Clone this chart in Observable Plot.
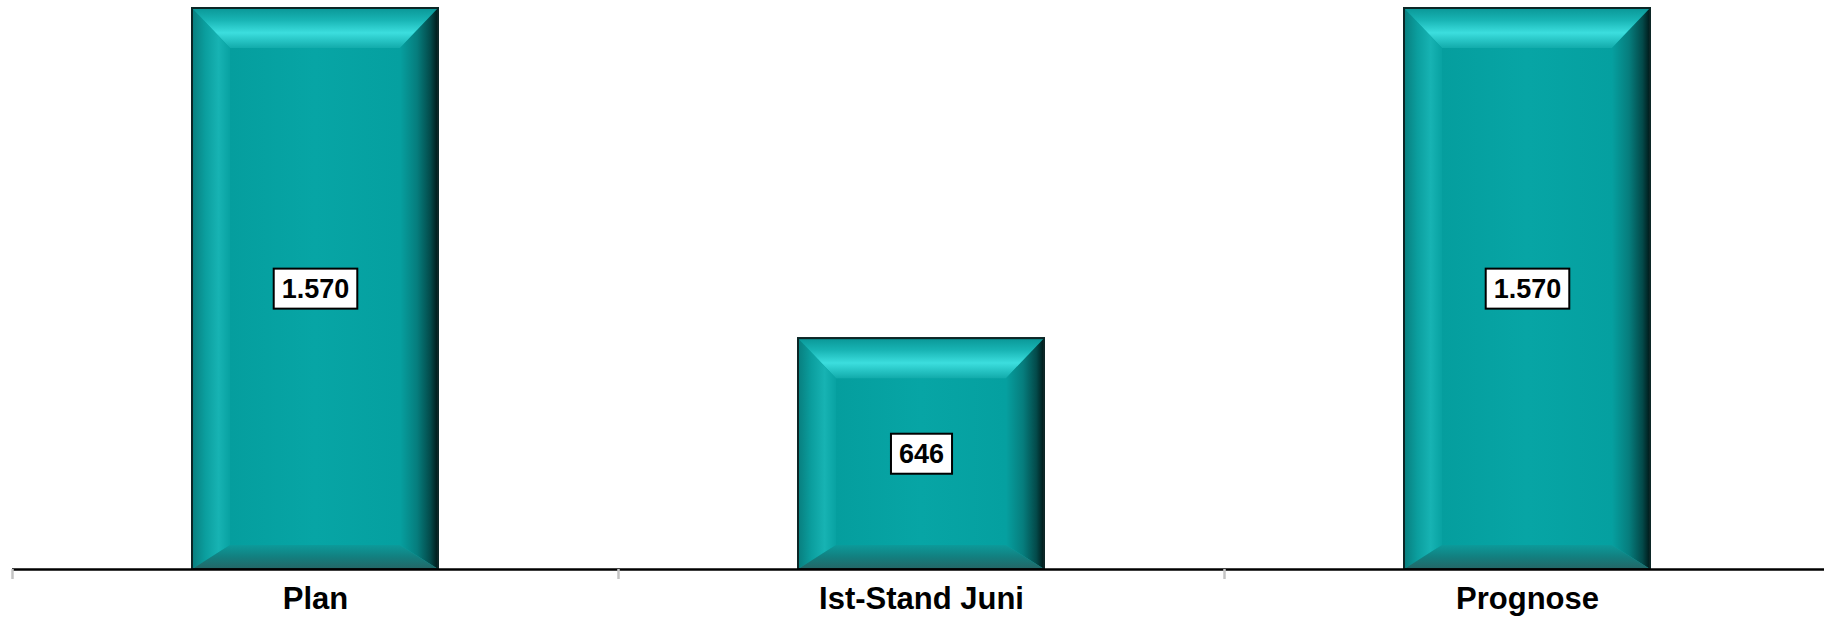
<!DOCTYPE html>
<html>
<head>
<meta charset="utf-8">
<script src="https://cdn.jsdelivr.net/npm/d3@7"></script>
<script src="https://cdn.jsdelivr.net/npm/@observablehq/plot@0.6"></script>
<style>
  html, body { margin: 0; padding: 0; background: #fff; }
  svg { display: block; }
</style>
</head>
<body>
<script>
const categories = ["Plan", "Ist-Stand Juni", "Prognose"];
const values = [1570, 646, 1570];

const data = categories.map((c, i) => ({cat: c, value: values[i]}));
const de = d3.formatLocale({decimal: ",", thousands: ".", grouping: [3], currency: ["", " €"]});
const fmt = de.format(",d");

const W = 1824, H = 617;
const xRange = [12, 1830];
const step = (xRange[1] - xRange[0]) / categories.length;
const FONT = "'Liberation Sans', Arial, Helvetica, sans-serif";

const chart = Plot.plot({
  width: W, height: H,
  marginTop: 8, marginBottom: 48, marginLeft: 12, marginRight: 0,
  style: {fontFamily: FONT, color: "#000", background: "#fff"},
  x: {domain: categories, range: xRange, paddingInner: 0.594, paddingOuter: 0.297, axis: null},
  y: {domain: [0, 1570], axis: null},
  marks: [
    Plot.barY(data, {x: "cat", y: "value", fill: "#06a3a3", stroke: "#0c2626", strokeWidth: 2, className: "bars"}),
    Plot.ruleY([0], {stroke: "#000", strokeWidth: 2.5}),
    Plot.axisX({tickSize: 10, dx: -step / 2, tickFormat: () => "", label: null, stroke: "#c4c4c4", strokeWidth: 2.5}),
    Plot.axisX({tickSize: 0, tickPadding: 17, label: null, fontSize: 31, fontWeight: "bold", fill: "#000"}),
    Plot.text(data, {x: "cat", y: d => d.value / 2, text: d => fmt(d.value), fontSize: 27, fontWeight: "bold", fill: "#000", className: "vlabel"})
  ]
});
document.body.append(chart);

// bevel decoration derived from the rendered bars
const NS = "http://www.w3.org/2000/svg";
const defs = document.createElementNS(NS, "defs");
chart.insertBefore(defs, chart.firstChild);
function grad(id, x2, y2, stops) {
  const g = document.createElementNS(NS, "linearGradient");
  g.setAttribute("id", id);
  g.setAttribute("x1", 0); g.setAttribute("y1", 0);
  g.setAttribute("x2", x2); g.setAttribute("y2", y2);
  stops.forEach(([o, c]) => {
    const s = document.createElementNS(NS, "stop");
    s.setAttribute("offset", o); s.setAttribute("stop-color", c);
    g.appendChild(s);
  });
  defs.appendChild(g);
}
grad("bvTop", 0, 1, [[0, "#0a9797"], [0.3, "#18b4b4"], [0.62, "#3cdede"], [1, "#12abab"]]);
grad("bvLeft", 1, 0, [[0, "#087e7e"], [0.35, "#0b9e9e"], [0.7, "#17b3b3"], [1, "#08a2a2"]]);
grad("bvRight", 1, 0, [[0, "#06a0a0"], [0.45, "#067d7d"], [0.8, "#034a4a"], [1, "#001818"]]);
grad("bvBottom", 0, 1, [[0, "#0c9a9a"], [0.5, "#137f7f"], [1, "#246666"]]);
grad("bvFace", 1, 0, [[0, "#059e9e"], [0.5, "#07a5a5"], [1, "#05a0a0"]]);

const BT = 40, BS = 38, BB = 24;
chart.querySelectorAll("g.bars rect").forEach(r => {
  const x = +r.getAttribute("x"), y = +r.getAttribute("y");
  const w = +r.getAttribute("width"), h = +r.getAttribute("height");
  const parent = r.parentNode;
  const tr = r.getAttribute("transform");
  const g = document.createElementNS(NS, "g");
  g.setAttribute("stroke", "none");
  if (tr) g.setAttribute("transform", tr);
  const x0 = x, x1 = x + w, y0 = y, y1 = y + h;
  const polys = [
    ["url(#bvFace)", [[x0 + BS, y0 + BT], [x1 - BS, y0 + BT], [x1 - BS, y1 - BB], [x0 + BS, y1 - BB]]],
    ["url(#bvTop)", [[x0, y0], [x1, y0], [x1 - BS, y0 + BT], [x0 + BS, y0 + BT]]],
    ["url(#bvLeft)", [[x0, y0], [x0 + BS, y0 + BT], [x0 + BS, y1 - BB], [x0, y1]]],
    ["url(#bvRight)", [[x1, y0], [x1, y1], [x1 - BS, y1 - BB], [x1 - BS, y0 + BT]]],
    ["url(#bvBottom)", [[x0, y1], [x0 + BS, y1 - BB], [x1 - BS, y1 - BB], [x1, y1]]]
  ];
  polys.forEach(([fill, pts]) => {
    const p = document.createElementNS(NS, "polygon");
    p.setAttribute("points", pts.map(d => d.join(",")).join(" "));
    p.setAttribute("fill", fill);
    p.setAttribute("stroke", "none");
    g.appendChild(p);
  });
  const o = document.createElementNS(NS, "rect");
  o.setAttribute("x", x); o.setAttribute("y", y);
  o.setAttribute("width", w); o.setAttribute("height", h);
  o.setAttribute("fill", "none"); o.setAttribute("stroke", "#0c2626"); o.setAttribute("stroke-width", 2);
  g.appendChild(o);
  parent.insertBefore(g, r.nextSibling);
});

// white boxes behind value labels
chart.querySelectorAll("g.vlabel text").forEach(t => {
  const b = t.getBBox();
  const rect = document.createElementNS(NS, "rect");
  const padX = 8;
  const cy = b.y + b.height / 2;
  rect.setAttribute("x", b.x - padX);
  rect.setAttribute("y", cy - 20);
  rect.setAttribute("width", b.width + 2 * padX);
  rect.setAttribute("height", 40);
  rect.setAttribute("fill", "#fff");
  rect.setAttribute("stroke", "#000");
  rect.setAttribute("stroke-width", 2);
  const tr = t.getAttribute("transform");
  if (tr) rect.setAttribute("transform", tr);
  t.parentNode.insertBefore(rect, t);
});
</script>
</body>
</html>
